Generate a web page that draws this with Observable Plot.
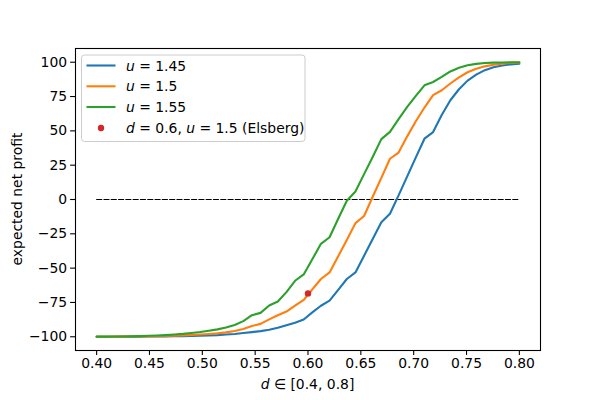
<!DOCTYPE html>
<html>
<head>
<meta charset="utf-8">
<script src="https://cdn.jsdelivr.net/npm/d3@7"></script>
<script src="https://cdn.jsdelivr.net/npm/@observablehq/plot@0.6"></script>
<style>
  html, body { margin: 0; padding: 0; background: #fff; }
</style>
</head>
<body>
<div id="chart"></div>
<script>
// ---- data ----
const dValues = [0.40000, 0.40816, 0.41633, 0.42449, 0.43265, 0.44082, 0.44898, 0.45714, 0.46531, 0.47347,
  0.48163, 0.48980, 0.49796, 0.50612, 0.51429, 0.52245, 0.53061, 0.53878, 0.54694, 0.55510,
  0.56327, 0.57143, 0.57959, 0.58776, 0.59592, 0.60408, 0.61224, 0.62041, 0.62857, 0.63673,
  0.64490, 0.65306, 0.66122, 0.66939, 0.67755, 0.68571, 0.69388, 0.70204, 0.71020, 0.71837,
  0.72653, 0.73469, 0.74286, 0.75102, 0.75918, 0.76735, 0.77551, 0.78367, 0.79184, 0.80000];

const profitU145 = [-100, -100, -100, -99.9, -99.9, -99.9, -99.8, -99.8, -99.7, -99.6,
  -99.5, -99.4, -99.2, -99.0, -98.8, -98.4, -98.0, -97.3, -96.6, -95.9,
  -94.9, -93.4, -91.6, -89.8, -87.4, -82.2, -77.4, -73.7, -65.8, -57.9,
  -53.1, -41.0, -28.8, -16.6, -10.4, 3.0, 16.8, 30.7, 44.3, 49.1,
  61.5, 72.3, 80.3, 86.6, 91.0, 94.2, 96.3, 97.6, 98.4, 98.9];

const profitU150 = [-100, -100, -99.9, -99.9, -99.8, -99.8, -99.7, -99.6, -99.4, -99.2,
  -99.0, -98.7, -98.4, -98.0, -97.5, -96.8, -95.8, -94.3, -92.2, -90.6,
  -87.3, -84.3, -81.6, -77.3, -73.2, -65.5, -57.9, -53.1, -41.3, -29.5,
  -17.2, -12.0, 2.0, 15.8, 29.7, 34.2, 46.0, 57.0, 67.0, 76.0,
  79.6, 84.5, 89.0, 92.7, 95.3, 97.0, 98.2, 99.0, 99.5, 99.8];

const profitU155 = [-99.9, -99.9, -99.8, -99.8, -99.7, -99.5, -99.3, -99.1, -98.8, -98.4,
  -97.9, -97.2, -96.5, -95.6, -94.6, -93.2, -91.4, -88.6, -84.3, -82.6,
  -77.2, -74.3, -67.5, -59.2, -54.6, -43.5, -32.3, -27.5, -14.0, -0.9,
  5.8, 18.5, 31.0, 44.0, 49.3, 58.5, 67.5, 75.5, 83.2, 85.6,
  89.3, 93.3, 96.0, 97.8, 98.8, 99.4, 99.7, 99.85, 99.9, 99.95];

const elsbergD = [0.6];
const elsbergProfit = [-68.4];

const zeroLineD = [0.4, 0.8];
const zeroLineProfit = [0, 0];

const xTicks = [0.40, 0.45, 0.50, 0.55, 0.60, 0.65, 0.70, 0.75, 0.80];
const yTicks = [-100, -75, -50, -25, 0, 25, 50, 75, 100];

const seriesColors = ["#1f77b4", "#ff7f0e", "#2ca02c"];
const elsbergColor = "#d62728";

// legend labels: arrays of [text, italic?]
const legendLabels = [
  [["u", true], [" = 1.45", false]],
  [["u", true], [" = 1.5", false]],
  [["u", true], [" = 1.55", false]],
  [["d", true], [" = 0.6, ", false], ["u", true], [" = 1.5 (Elsberg)", false]]
];
const xLabelParts = [["d", true], [" ∈ [0.4, 0.8]", false]];
const yLabelText = "expected net profit";

// ---- build tables ----
const seriesValues = [profitU145, profitU150, profitU155];
const seriesRows = seriesValues.map(vals => dValues.map((d, i) => ({d, v: vals[i]})));
const zeroRows = zeroLineD.map((d, i) => ({d, v: zeroLineProfit[i]}));
const elsbergRows = elsbergD.map((d, i) => ({d, v: elsbergProfit[i]}));

const W = 600, H = 400, ML = 75, MR = 60, MT = 48, MB = 50;
const FONT = "'DejaVu Sans', sans-serif";

const chart = Plot.plot({
  width: W, height: H,
  marginLeft: ML, marginRight: MR, marginTop: MT, marginBottom: MB,
  style: {fontFamily: FONT, fontSize: "13.9px", color: "black", background: "white", overflow: "visible"},
  x: {domain: [0.38, 0.82]},
  y: {domain: [-110, 110]},
  marks: [
    Plot.axisX({ticks: xTicks, tickFormat: d3.format(".2f"), tickSize: 4.9, tickPadding: 3, label: null, strokeWidth: 1.1, fontSize: 13.9}),
    Plot.axisY({ticks: yTicks, tickFormat: d3.format("d"), tickSize: 4.9, tickPadding: 3.5, label: null, strokeWidth: 1.1, fontSize: 13.9}),
    Plot.line(zeroRows, {x: "d", y: "v", stroke: "black", strokeWidth: 1.2, strokeDasharray: "5.1,2.2"}),
    ...seriesRows.map((rows, i) => Plot.line(rows, {x: "d", y: "v", stroke: seriesColors[i], strokeWidth: 2.1, strokeLinejoin: "round"})),
    Plot.dot(elsbergRows, {x: "d", y: "v", r: 3.2, fill: elsbergColor, stroke: "none"}),
    Plot.frame({stroke: "black", strokeWidth: 1.1})
  ]
});

document.getElementById("chart").appendChild(chart);

// ---- labels and legend ----
const svg = d3.select(chart);

function addParts(textSel, parts) {
  parts.forEach(([t, it]) => {
    textSel.append("tspan").attr("font-style", it ? "italic" : "normal").text(t);
  });
}

const xl = svg.append("text")
  .attr("x", (ML + W - MR) / 2).attr("y", 389)
  .attr("text-anchor", "middle")
  .attr("font-family", FONT).attr("font-size", 13.9).attr("fill", "black");
addParts(xl, xLabelParts);

svg.append("text")
  .attr("transform", `translate(22, ${(MT + H - MB) / 2}) rotate(-90)`)
  .attr("text-anchor", "middle")
  .attr("font-family", FONT).attr("font-size", 13.9).attr("fill", "black")
  .text(yLabelText);

const lg = svg.append("g");
lg.append("rect")
  .attr("x", 81.5).attr("y", 55).attr("width", 223.5).attr("height", 86.5)
  .attr("rx", 3).attr("fill", "white").attr("fill-opacity", 0.8)
  .attr("stroke", "#cccccc").attr("stroke-width", 1);

const rowY = [65.5, 86.3, 107, 128];
legendLabels.forEach((parts, i) => {
  const y = rowY[i];
  if (i < 3) {
    lg.append("line").attr("x1", 86.5).attr("x2", 115.5).attr("y1", y).attr("y2", y)
      .attr("stroke", seriesColors[i]).attr("stroke-width", 2.1);
  } else {
    lg.append("circle").attr("cx", 101).attr("cy", y).attr("r", 3.2).attr("fill", elsbergColor);
  }
  const t = lg.append("text")
    .attr("x", 126).attr("y", y).attr("dy", "0.36em")
    .attr("text-anchor", "start")
    .attr("font-family", FONT).attr("font-size", 13.9).attr("fill", "black");
  addParts(t, parts);
});
</script>
</body>
</html>
